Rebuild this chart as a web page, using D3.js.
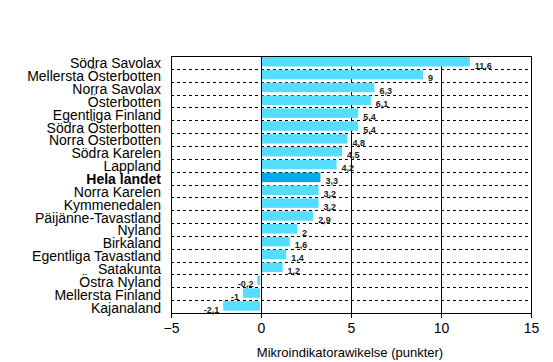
<!DOCTYPE html>
<html>
<head>
<meta charset="utf-8">
<script src="https://cdn.jsdelivr.net/npm/d3@7"></script>
<style>
    body { margin: 0; background: #fff; }
    svg { font-family: Arial, "Liberation Sans", sans-serif; }
</style>
</head>
<body>
<div id="chart"></div>
<script>
const regions = ["Södra Savolax", "Mellersta Österbotten", "Norra Savolax", "Österbotten",
    "Egentliga Finland", "Södra Österbotten", "Norra Österbotten", "Södra Karelen", "Lappland",
    "Hela landet", "Norra Karelen", "Kymmenedalen", "Päijänne-Tavastland", "Nyland", "Birkaland",
    "Egentliga Tavastland", "Satakunta", "Östra Nyland", "Mellersta Finland", "Kajanaland"];
const values = [11.6, 9, 6.3, 6.1, 5.4, 5.4, 4.8, 4.5, 4.2, 3.3, 3.2, 3.2, 2.9, 2, 1.6, 1.4, 1.2, -0.2, -1, -2.1];
const xTicks = [-5, 0, 5, 10, 15];
const gridLines = [0, 5, 10];
const highlight = "Hela landet";

const data = regions.map(function (r, i) {
    return {name: r, value: values[i]};
});

const margin = {top: 56, right: 22, bottom: 49, left: 171},
    width = 553 - margin.left - margin.right,
    height = 362 - margin.top - margin.bottom;

const svg = d3.select("#chart").append("svg")
    .attr("width", 553)
    .attr("height", 362)
    .append("g")
    .attr("transform", "translate(" + margin.left + "," + margin.top + ")");

const x = d3.scaleLinear()
    .domain([-5, 15])
    .range([0, width]);

const y = d3.scaleBand()
    .domain(regions)
    .range([0, height])
    .padding(0);

// dashed horizontal lines between categories
svg.append("g")
    .selectAll("line")
    .data(regions.slice(1))
    .enter()
    .append("line")
    .attr("x1", 0)
    .attr("x2", width)
    .attr("y1", function (d) { return Math.round(y(d)) + 0.5; })
    .attr("y2", function (d) { return Math.round(y(d)) + 0.5; })
    .attr("stroke", "#000")
    .attr("stroke-dasharray", "3,3");

// solid vertical grid lines
svg.append("g")
    .selectAll("line")
    .data(gridLines)
    .enter()
    .append("line")
    .attr("x1", function (d) { return Math.round(x(d)) + 0.5; })
    .attr("x2", function (d) { return Math.round(x(d)) + 0.5; })
    .attr("y1", 0)
    .attr("y2", height)
    .attr("stroke", "#000");

// bars
const barH = y.bandwidth() * 0.74;
svg.append("g")
    .selectAll("rect")
    .data(data)
    .enter()
    .append("rect")
    .attr("x", function (d) { return x(Math.min(0, d.value)) + (d.value < 0 ? 0 : 1); })
    .attr("y", function (d) { return y(d.name) + 1; })
    .attr("width", function (d) { return Math.abs(x(d.value) - x(0)) - 1; })
    .attr("height", barH)
    .attr("fill", function (d) { return d.name === highlight ? "#00AAEE" : "#55DDFF"; });

// value labels
svg.append("g")
    .selectAll("text")
    .data(data)
    .enter()
    .append("text")
    .attr("x", function (d) { return d.value < 0 ? x(d.value) - 4 : x(d.value) + 5; })
    .attr("y", function (d) { return y(d.name) + barH + 3; })
    .attr("text-anchor", function (d) { return d.value < 0 ? "end" : "start"; })
    .style("font-size", "9px")
    .style("font-weight", "bold")
    .style("fill", "#222")
    .text(function (d) { return String(d.value).replace(".", ","); });

// frame
svg.append("rect")
    .attr("x", 0.5)
    .attr("y", 0.5)
    .attr("width", width)
    .attr("height", height)
    .attr("fill", "none")
    .attr("stroke", "#000");

// category labels
svg.append("g")
    .selectAll("text")
    .data(regions)
    .enter()
    .append("text")
    .attr("x", -10)
    .attr("y", function (d) { return y(d) + y.bandwidth() - 0.5; })
    .attr("text-anchor", "end")
    .style("font-size", "14px")
    .style("font-weight", function (d) { return d === highlight ? "bold" : "normal"; })
    .style("fill", "#000")
    .text(function (d) { return d; });

// x axis
const xAxis = svg.append("g")
    .attr("transform", "translate(0," + height + ")")
    .call(d3.axisBottom(x).tickValues(xTicks).tickSize(5).tickSizeOuter(0));
xAxis.select(".domain").attr("stroke", "#000");
xAxis.selectAll("line").attr("stroke", "#000");
xAxis.selectAll("text")
    .style("font-size", "14px")
    .style("font-family", "Arial, 'Liberation Sans', sans-serif")
    .attr("fill", "#000")
    .attr("dy", "0.85em");

svg.append("text")
    .attr("x", x(5) - 1)
    .attr("y", height + 44)
    .attr("text-anchor", "middle")
    .style("font-size", "13px")
    .style("fill", "#000")
    .text("Mikroindikatorawikelse (punkter)");
</script>
</body>
</html>
